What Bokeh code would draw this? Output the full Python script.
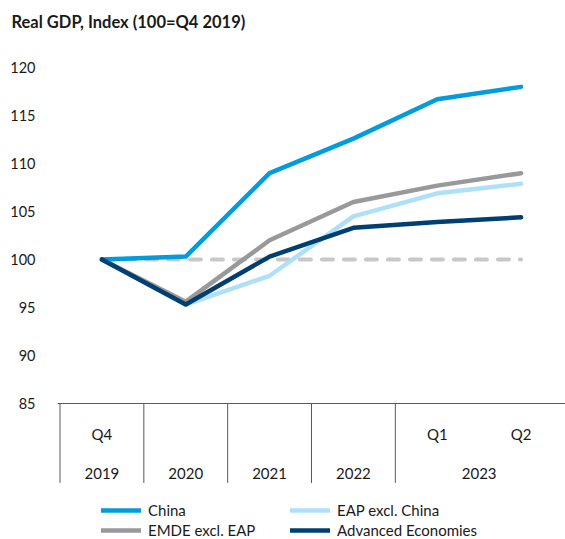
from bokeh.plotting import figure
from bokeh.models import FactorRange, FixedTicker, Legend, LegendItem, ColumnDataSource, Title
from bokeh.transform import dodge
from bokeh.embed import file_html
from bokeh.resources import INLINE

# ---- data ----
YEARS = ["2019", "2020", "2021", "2022", "2023", "2023"]
QUARTERS = ["Q4", "", "", "", "Q1", "Q2"]
CHINA = [100.0, 100.3, 109.0, 112.6, 116.7, 118.0]
EAP_EXCL_CHINA = [100.0, 95.3, 98.3, 104.5, 106.9, 107.9]
EMDE_EXCL_EAP = [100.0, 95.6, 102.0, 106.0, 107.7, 109.0]
ADVANCED = [100.0, 95.3, 100.3, 103.3, 103.9, 104.4]
BASELINE = [100, 100, 100, 100, 100, 100]
Y_TICKS = [85, 90, 95, 100, 105, 110, 115, 120]
Y_MIN, Y_MAX = 70.8, 122.0
AXIS_Y = 85
SEP_END = 76.7
TITLE = "Real GDP, Index (100=Q4 2019)"

FONT = "Lato"
TXT = "#1a1a1a"
AXC = "#595959"

factors = list(zip(YEARS, QUARTERS))
src = ColumnDataSource(dict(x=factors, china=CHINA, eap=EAP_EXCL_CHINA,
                            emde=EMDE_EXCL_EAP, adv=ADVANCED, base=BASELINE))

group_starts = [f for i, f in enumerate(factors) if i == 0 or f[0] != factors[i - 1][0]]
sep = ColumnDataSource(dict(x=group_starts,
                            y0=[AXIS_Y] * len(group_starts),
                            y1=[SEP_END] * len(group_starts)))

p = figure(width=565, height=539, output_backend="svg", toolbar_location=None,
           x_range=FactorRange(*factors, group_padding=0, factor_padding=0,
                               range_padding=0.01),
           y_range=(Y_MIN, Y_MAX),
           min_border_left=57, min_border_right=0, min_border_top=0,
           min_border_bottom=0)
p.outline_line_color = None
p.xgrid.visible = False
p.ygrid.visible = False

# title
p.title.text = TITLE
p.title.text_font = FONT
p.title.text_font_style = "bold"
p.title.text_font_size = "16.5px"
p.title.text_color = TXT
p.title.align = "left"
p.title.offset = -46
p.title.standoff = 18
# spacer between title and plot area
p.add_layout(Title(text=" ", text_font_size="1px", standoff=5), "above")

# y axis
p.yaxis.ticker = FixedTicker(ticks=Y_TICKS)
p.yaxis.axis_line_color = None
p.yaxis.major_tick_line_color = None
p.yaxis.minor_tick_line_color = None
p.yaxis.major_tick_out = 0
p.yaxis.major_tick_in = 0
p.yaxis.major_label_standoff = 22
p.yaxis.major_label_text_font = FONT
p.yaxis.major_label_text_font_size = "14.5px"
p.yaxis.major_label_text_color = TXT

# x axis (inside frame at 85)
xa = p.xaxis[0]
xa.fixed_location = AXIS_Y
xa.axis_line_color = AXC
xa.axis_line_width = 1
xa.major_tick_line_color = None
xa.minor_tick_line_color = None
xa.major_tick_out = 0
xa.major_tick_in = 0
xa.axis_label_standoff = 0
xa.separator_line_color = None
xa.major_label_standoff = 22
xa.major_label_text_font = FONT
xa.major_label_text_font_size = "15px"
xa.major_label_text_color = TXT
xa.group_text_font = FONT
xa.group_text_font_size = "15px"
xa.group_text_font_style = "normal"
xa.group_text_color = TXT

p.segment(x0=dodge("x", -0.5, range=p.x_range), y0="y0",
          x1=dodge("x", -0.5, range=p.x_range), y1="y1",
          source=sep, line_color=AXC, line_width=1)

# lines
p.line("x", "base", source=src, line_color="#c8c8c8", line_width=4,
       line_dash="11 11", line_cap="round")
r_eap = p.line("x", "eap", source=src, line_color="#aee0fa", line_width=4.5,
               line_cap="round", line_join="round")
r_emde = p.line("x", "emde", source=src, line_color="#98999b", line_width=4.5,
                line_cap="round", line_join="round")
r_china = p.line("x", "china", source=src, line_color="#009cdc", line_width=4.5,
                 line_cap="round", line_join="round")
r_adv = p.line("x", "adv", source=src, line_color="#003f72", line_width=4.5,
               line_cap="round", line_join="round")

legend = Legend(items=[LegendItem(label="China", renderers=[r_china]),
                       LegendItem(label="EMDE excl. EAP", renderers=[r_emde]),
                       LegendItem(label="EAP excl. China", renderers=[r_eap]),
                       LegendItem(label="Advanced Economies", renderers=[r_adv])],
                orientation="vertical", ncols=2, location=(44, 0),
                margin=0, padding=0, spacing=2,
                glyph_width=40, glyph_height=18, label_height=18,
                label_width=140, label_standoff=7,
                label_text_font=FONT, label_text_font_size="15px",
                label_text_color=TXT,
                background_fill_alpha=0, border_line_color=None)
p.add_layout(legend, "center")

open("out.html", "w").write(file_html(p, INLINE))
